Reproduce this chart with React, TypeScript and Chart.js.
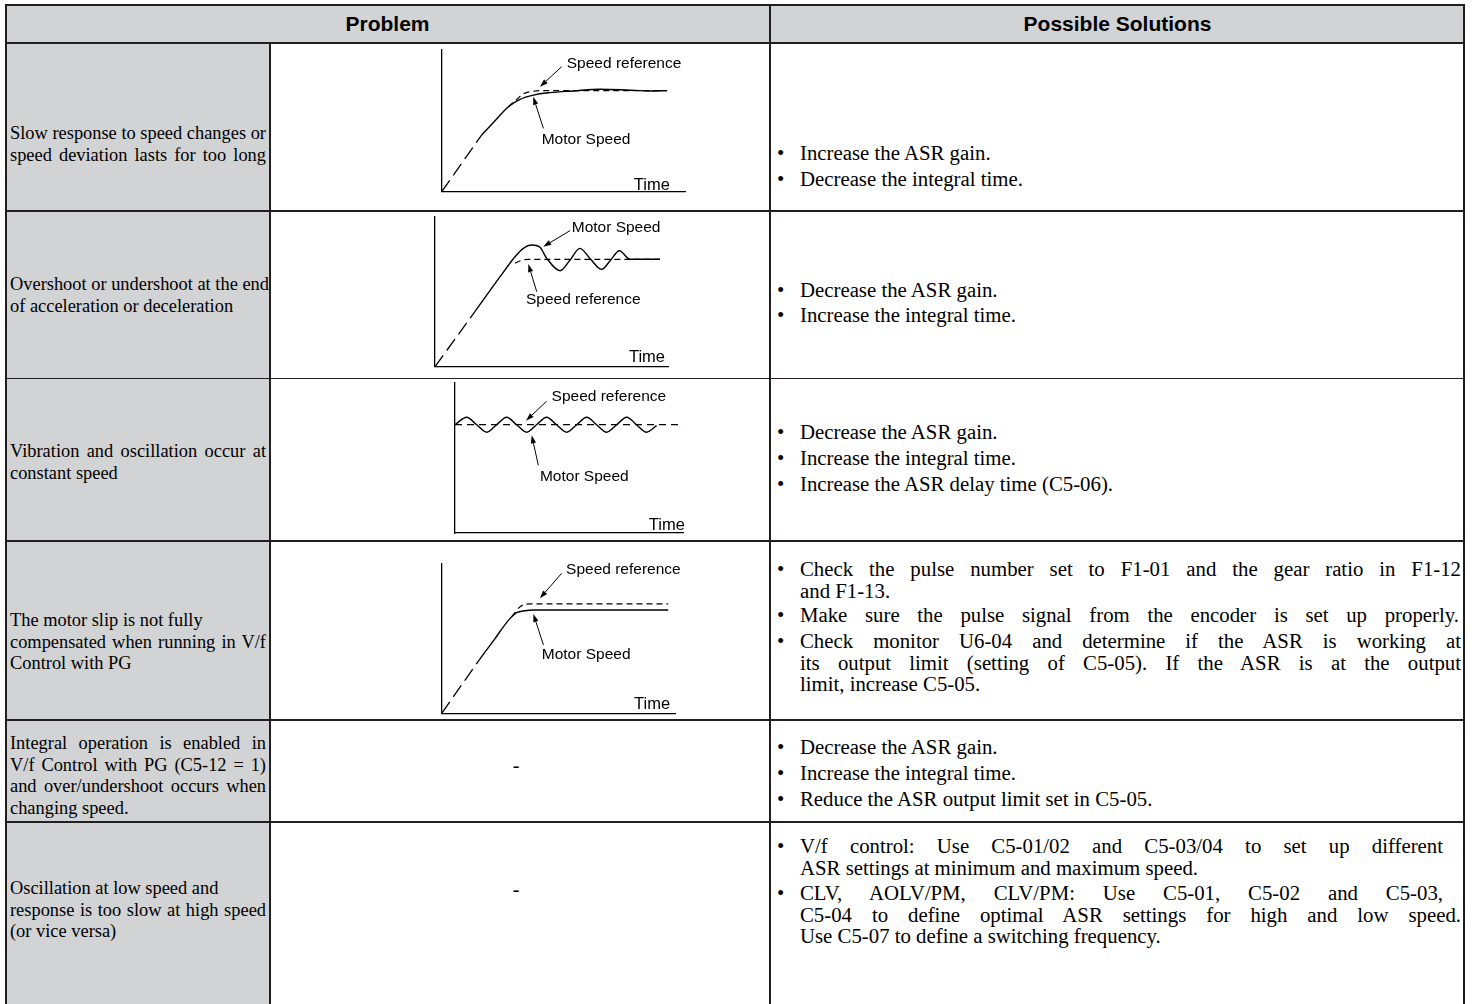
import React, { useEffect, useRef } from "react";
import { Chart, registerables } from "chart.js";

Chart.register(...registerables);

type P = [number, number];

// ---------- Diagram data (x = time 0..100, y = speed 0..100) ----------
// Row 1: slow response
const d1Ramp: P[] = [[0, 0], [16.4, 40]];
const d1Motor: P[] = [[16.4, 40], [22, 50.2], [27.4, 60], [32.2, 65.2], [37.7, 68.2], [44.5, 69.9], [54.1, 71.1], [65.1, 72.3], [76.0, 71.8], [85.6, 71.1], [92.5, 71.3]];
const d1Ref: P[] = [[27.4, 60], [30.5, 64.5], [33.5, 69.0], [37.0, 70.7], [40.4, 71.3], [92.7, 71.3]];

// Row 2: overshoot
const d2Ramp: P[] = [[0, 0], [17.1, 36.7]];
const d2Motor: P[] = [[17.1, 36.7], [27.9, 60], [34.3, 73.3], [37.9, 78.9], [41.4, 81.1], [45.0, 79.6], [47.9, 72.2], [53.6, 64.0], [57.9, 71.1], [62.1, 78.9], [66.7, 71.6], [71.4, 64.9], [75.3, 71.1], [79.0, 77.3], [83.6, 71.6], [96.4, 71.6]];
const d2Ref: P[] = [[34.3, 69], [37.0, 70.8], [40.0, 71.6], [96.4, 71.6]];

// Row 3: oscillation at constant speed
const d3Ref: P[] = [[0, 72.2], [100, 72.2]];
const d3Motor: P[] = [[0, 72.2], [5.1, 77.2], [9.5, 72.2], [13.9, 67.2], [18.2, 72.2], [22.6, 77.2], [27.0, 72.2], [31.4, 67.2], [35.7, 72.2], [40.1, 77.2], [44.5, 72.2], [48.9, 67.2], [53.3, 72.2], [57.7, 77.2], [62.0, 72.2], [66.4, 67.2], [70.8, 72.2], [75.2, 77.2], [79.5, 72.2], [83.9, 67.2], [88.3, 71.6]];

// Row 4: slip not compensated
const d4Ramp: P[] = [[0, 0], [16.1, 35.6]];
const d4Motor: P[] = [[16.1, 35.6], [22.7, 49.5], [29.3, 63.3], [32.1, 67.1], [35.7, 68.4], [39.3, 68.9], [97.1, 68.9]];
const d4Ref: P[] = [[30.0, 64.4], [33.6, 71.1], [37.9, 72.9], [97.1, 72.9]];

// ---------- Table text ----------
const headers = ["Problem", "Possible Solutions"];
const problems: string[][] = [
  ["Slow response to speed changes or", "speed deviation lasts for too long"],
  ["Overshoot or undershoot at the end", "of acceleration or deceleration"],
  ["Vibration and oscillation occur at", "constant speed"],
  ["The motor slip is not fully", "compensated when running in V/f", "Control with PG"],
  ["Integral operation is enabled in", "V/f Control with PG (C5-12 = 1)", "and over/undershoot occurs when", "changing speed."],
  ["Oscillation at low speed and", "response is too slow at high speed", "(or vice versa)"],
];
const problemTops = [133, 284, 451, 620, 743, 888];

const solutions: string[][][] = [
  [["Increase the ASR gain."], ["Decrease the integral time."]],
  [["Decrease the ASR gain."], ["Increase the integral time."]],
  [["Decrease the ASR gain."], ["Increase the integral time."], ["Increase the ASR delay time (C5-06)."]],
  [
    ["Check the pulse number set to F1-01 and the gear ratio in F1-12", "and F1-13."],
    ["Make sure the pulse signal from the encoder is set up properly."],
    ["Check monitor U6-04 and determine if the ASR is working at", "its output limit (setting of C5-05). If the ASR is at the output", "limit, increase C5-05."],
  ],
  [["Decrease the ASR gain."], ["Increase the integral time."], ["Reduce the ASR output limit set in C5-05."]],
  [
    ["V/f control: Use C5-01/02 and C5-03/04 to set up different", "ASR settings at minimum and maximum speed."],
    ["CLV, AOLV/PM, CLV/PM: Use C5-01, C5-02 and C5-03,", "C5-04 to define optimal ASR settings for high and low speed.", "Use C5-07 to define a switching frequency."],
  ],
];
const solutionTops: number[][] = [
  [152, 178],
  [289, 314],
  [431, 457, 483],
  [568, 614, 640],
  [746, 772, 798],
  [845, 892],
];
const dashRows = [765, 889];

// ---------- Layout of text (which lines are set flush to the cell's right edge) ----------
const col1Flush: number[][] = [[1, 1], [1, 0], [1, 0], [0, 1, 0], [1, 1, 1, 0], [0, 1, 0]];
const col3Right: Record<string, number> = {
  "3-0-0": 1461, "3-1-0": 1459, "3-2-0": 1461, "3-2-1": 1461,
  "5-0-0": 1443, "5-1-0": 1443, "5-1-1": 1461,
};

// ---------- Diagram specs ----------
type Note = { text: string; x: number; y: number; align: CanvasTextAlign; size: number; base?: CanvasTextBaseline };
type Arrow = [number, number, number, number];
type Series = { pts: P[]; dash: number[]; width: number; smooth: boolean };
type Spec = {
  left: number; top: number; w: number; h: number;
  pad: { left: number; right: number; top: number; bottom: number };
  series: Series[]; notes: Note[]; arrows: Arrow[];
};

const RAMP_DASH = [14, 6];
const REF_DASH = [6, 4];

const specs: Spec[] = [
  {
    left: 271, top: 44, w: 498, h: 166,
    pad: { left: 170.7, right: 84, top: 6, bottom: 18.3 },
    series: [
      { pts: d1Ramp, dash: RAMP_DASH, width: 1.3, smooth: false },
      { pts: d1Motor, dash: [], width: 1.4, smooth: true },
      { pts: d1Ref, dash: REF_DASH, width: 1.2, smooth: true },
    ],
    notes: [
      { text: "Speed reference", x: 51.4, y: 90.6, align: "left", size: 15.5 },
      { text: "Motor Speed", x: 41.1, y: 36.5, align: "left", size: 15.5 },
      { text: "Time", x: 93.8, y: 1.2, align: "right", size: 16.5, base: "alphabetic" },
    ],
    arrows: [[49.3, 88.2, 40.4, 74.1], [41.8, 44.7, 37.6, 67.0]],
  },
  {
    left: 271, top: 212, w: 498, h: 166,
    pad: { left: 164, right: 100.7, top: 4.7, bottom: 11.3 },
    series: [
      { pts: d2Ramp, dash: RAMP_DASH, width: 1.3, smooth: false },
      { pts: d2Motor, dash: [], width: 1.4, smooth: true },
      { pts: d2Ref, dash: REF_DASH, width: 1.2, smooth: true },
    ],
    notes: [
      { text: "Motor Speed", x: 58.6, y: 92.9, align: "left", size: 15.5 },
      { text: "Speed reference", x: 39.0, y: 44.4, align: "left", size: 15.5 },
      { text: "Time", x: 98.6, y: 3.0, align: "right", size: 16.5, base: "alphabetic" },
    ],
    arrows: [[57.9, 90.7, 46.4, 80.0], [43.6, 50.0, 40.0, 68.4]],
  },
  {
    left: 271, top: 380, w: 498, h: 160,
    pad: { left: 184, right: 85.7, top: 3, bottom: 7 },
    series: [
      { pts: d3Ref, dash: [7, 5], width: 1.2, smooth: false },
      { pts: d3Motor, dash: [], width: 1.4, smooth: true },
    ],
    notes: [
      { text: "Speed reference", x: 42.3, y: 91.1, align: "left", size: 15.5 },
      { text: "Motor Speed", x: 37.2, y: 37.8, align: "left", size: 15.5 },
      { text: "Time", x: 100.7, y: 2.2, align: "right", size: 16.5, base: "alphabetic" },
    ],
    arrows: [[40.1, 87.8, 31.1, 74.9], [36.5, 45.1, 33.6, 65.1]],
  },
  {
    left: 271, top: 542, w: 498, h: 177,
    pad: { left: 170.7, right: 94, top: 21.3, bottom: 5.7 },
    series: [
      { pts: d4Ramp, dash: RAMP_DASH, width: 1.3, smooth: false },
      { pts: d4Motor, dash: [], width: 1.4, smooth: true },
      { pts: d4Ref, dash: REF_DASH, width: 1.2, smooth: true },
    ],
    notes: [
      { text: "Speed reference", x: 53.3, y: 96.0, align: "left", size: 15.5 },
      { text: "Motor Speed", x: 42.9, y: 38.9, align: "left", size: 15.5 },
      { text: "Time", x: 97.9, y: 3.0, align: "right", size: 16.5, base: "alphabetic" },
    ],
    arrows: [[51.4, 93.3, 42.1, 76.7], [43.6, 45.6, 39.3, 66.2]],
  },
];

const SANS = '"Liberation Sans", Arial, sans-serif';
const SERIF = '"Liberation Serif", "Times New Roman", serif';
const GRAY = "#d1d3d4";
const INK = "#231f20";

function makeNotesPlugin(spec: Spec) {
  return {
    id: "diagramNotes",
    afterDraw(chart: any) {
      const { ctx, scales } = chart;
      const xs = scales.x, ys = scales.y;
      ctx.save();
      ctx.strokeStyle = "#000";
      ctx.fillStyle = "#000";
      ctx.lineWidth = 1;
      ctx.setLineDash([]);
      for (const a of spec.arrows) {
        const x1 = xs.getPixelForValue(a[0]), y1 = ys.getPixelForValue(a[1]);
        const x2 = xs.getPixelForValue(a[2]), y2 = ys.getPixelForValue(a[3]);
        const ang = Math.atan2(y2 - y1, x2 - x1);
        const len = 8, hw = 2.6;
        const bx = x2 - len * Math.cos(ang), by = y2 - len * Math.sin(ang);
        ctx.beginPath();
        ctx.moveTo(x1, y1);
        ctx.lineTo(bx, by);
        ctx.stroke();
        ctx.beginPath();
        ctx.moveTo(x2, y2);
        ctx.lineTo(bx + hw * Math.sin(ang), by - hw * Math.cos(ang));
        ctx.lineTo(bx - hw * Math.sin(ang), by + hw * Math.cos(ang));
        ctx.closePath();
        ctx.fill();
      }
      for (const n of spec.notes) {
        ctx.font = `${n.size}px ${SANS}`;
        ctx.textAlign = n.align;
        ctx.textBaseline = n.base || "middle";
        ctx.fillText(n.text, xs.getPixelForValue(n.x), ys.getPixelForValue(n.y));
      }
      ctx.restore();
    },
  };
}

function Diagram({ spec }: { spec: Spec }) {
  const ref = useRef<HTMLCanvasElement>(null);
  useEffect(() => {
    const axis = {
      type: "linear" as const,
      min: 0,
      max: 100,
      grid: { display: false, drawTicks: false },
      ticks: { display: false },
      border: { display: true, color: "#000", width: 1.3 },
    };
    const chart = new Chart(ref.current!, {
      type: "line",
      data: {
        datasets: spec.series.map((s) => ({
          data: s.pts.map(([x, y]) => ({ x, y })),
          borderColor: "#000",
          borderWidth: s.width,
          borderDash: s.dash,
          pointRadius: 0,
          fill: false,
          cubicInterpolationMode: s.smooth ? ("monotone" as const) : ("default" as const),
        })),
      },
      options: {
        animation: false,
        responsive: false,
        maintainAspectRatio: false,
        layout: { padding: spec.pad },
        scales: { x: axis, y: axis },
        plugins: { legend: { display: false }, tooltip: { enabled: false } },
        events: [],
      },
      plugins: [makeNotesPlugin(spec)],
    });
    return () => chart.destroy();
  }, [spec]);
  return (
    <canvas
      ref={ref}
      width={spec.w}
      height={spec.h}
      style={{ position: "absolute", left: spec.left, top: spec.top, width: spec.w, height: spec.h }}
    />
  );
}

const LH = 21.7;
const TXT_OFF = 10;

function TextLines({ left, top, widths, lines, flush, size }: { left: number; top: number; widths: number[]; lines: string[]; flush: boolean[]; size: number }) {
  return (
    <div style={{ position: "absolute", left, top: top - TXT_OFF, fontFamily: SERIF, fontSize: size, lineHeight: `${LH}px`, color: "#000" }}>
      {lines.map((l, i) => {
        const just = flush[i];
        return (
          <div
            key={i}
            style={{ whiteSpace: "nowrap", width: widths[i], textAlign: just ? "justify" : "left", textAlignLast: just ? "justify" : "left" } as any}
          >
            {l}
          </div>
        );
      })}
    </div>
  );
}

function HLine({ y, x1, x2, t }: { y: number; x1: number; x2: number; t: number }) {
  return <div style={{ position: "absolute", left: x1, top: y - t / 2, width: x2 - x1, height: t, background: INK }} />;
}
function VLine({ x, y1, y2, t }: { x: number; y1: number; y2: number; t: number }) {
  return <div style={{ position: "absolute", left: x - t / 2, top: y1, width: t, height: y2 - y1, background: INK }} />;
}

export default function App() {
  const L = 5, R = 1465, T = 4.5, HB = 43.3, C1 = 270, C2 = 770, BOT = 1010;
  const rowLines = [211, 378.5, 541, 720, 822];
  const TX3 = 800;
  const S3 = 20.8;
  return (
    <div style={{ position: "absolute", left: 0, top: 0, width: 1475, height: 1004, overflow: "hidden", background: "#fff" }}>
      {/* gray fills */}
      <div style={{ position: "absolute", left: L, top: T, width: R - L, height: HB - T, background: GRAY }} />
      <div style={{ position: "absolute", left: L, top: HB, width: C1 - L, height: BOT - HB, background: GRAY }} />

      {/* header text */}
      <div style={{ position: "absolute", left: L, top: T, width: C2 - L, height: HB - T, display: "flex", alignItems: "center", justifyContent: "center", fontFamily: SANS, fontWeight: "bold", fontSize: 21 }}>
        {headers[0]}
      </div>
      <div style={{ position: "absolute", left: C2, top: T, width: R - C2, height: HB - T, display: "flex", alignItems: "center", justifyContent: "center", fontFamily: SANS, fontWeight: "bold", fontSize: 21 }}>
        {headers[1]}
      </div>

      {/* problems */}
      {problems.map((lines, i) => (
        <TextLines
          key={"p" + i}
          left={10}
          top={problemTops[i]}
          size={18.4}
          widths={lines.map(() => 256)}
          flush={lines.map((_, j) => col1Flush[i][j] === 1)}
          lines={lines}
        />
      ))}

      {/* solutions */}
      {solutions.map((paras, r) =>
        paras.map((lines, k) => (
          <React.Fragment key={`s${r}-${k}`}>
            <TextLines left={777} top={solutionTops[r][k]} size={S3} widths={[20]} flush={[false]} lines={["•"]} />
            <TextLines
              left={TX3}
              top={solutionTops[r][k]}
              size={S3}
              widths={lines.map((_, i) => (col3Right[`${r}-${k}-${i}`] ?? 1461) - TX3)}
              flush={lines.map((_, i) => col3Right[`${r}-${k}-${i}`] !== undefined)}
              lines={lines}
            />
          </React.Fragment>
        ))
      )}

      {/* dashes in diagram column */}
      {dashRows.map((y, i) => (
        <div key={"d" + i} style={{ position: "absolute", left: C1 - 4, width: C2 - C1, top: y - TXT_OFF, textAlign: "center", fontFamily: SERIF, fontSize: 20, lineHeight: `${LH}px` }}>
          -
        </div>
      ))}

      {/* diagrams */}
      {specs.map((s, i) => (
        <Diagram key={"g" + i} spec={s} />
      ))}

      {/* borders */}
      <HLine y={T} x1={L} x2={R} t={2} />
      <HLine y={HB} x1={L} x2={R} t={2} />
      {rowLines.map((y, i) => (
        <HLine key={"r" + i} y={y} x1={L} x2={R} t={1.6} />
      ))}
      <VLine x={L + 1} y1={T} y2={BOT} t={2} />
      <VLine x={R - 1} y1={T} y2={BOT} t={2} />
      <VLine x={C1} y1={HB} y2={BOT} t={1.2} />
      <VLine x={C2} y1={T} y2={BOT} t={1.6} />
    </div>
  );
}
